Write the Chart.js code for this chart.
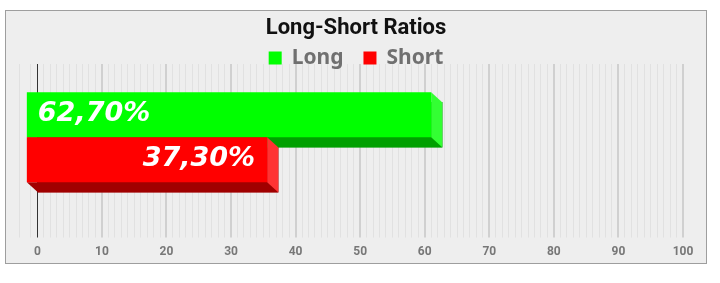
<!DOCTYPE html>
<html>
<head>
<meta charset="utf-8">
<script src="https://cdn.jsdelivr.net/npm/chart.js@4"></script>
<style>
    html, body { margin: 0; padding: 0; background: #ffffff; }
    #wrap { position: relative; width: 720px; height: 283px; }
    #card {
        position: absolute; left: 5px; top: 10px;
        width: 700px; height: 252px;
        border: 1px solid #9e9e9e; background: #eeeeee;
    }
    #chart { position: absolute; left: 0; top: 0; }
</style>
</head>
<body>
<div id="wrap">
    <div id="card"></div>
    <canvas id="chart" width="720" height="283"></canvas>
</div>
<script>
// Long / short ratio, 3D-looking horizontal bars

const CATEGORIES = ['Ratios'];
const SERIES_NAMES = ['Long', 'Short'];
const LONG_VALUES = [62.70];
const SHORT_VALUES = [37.30];
const X_TICKS = [0, 10, 20, 30, 40, 50, 60, 70, 80, 90, 100];

const FRONT_COLORS = ['#00ff00', '#ff0000'];
const SIDE_COLORS = ['#33ff33', '#ff3333'];
const BOTTOM_COLORS = ['#00a000', '#a00000'];
const LABEL_ALIGN = ['left', 'right'];

// depth of the fake 3D box (front face sits up-left of the back face)
const DEPTH_X = 11;
const DEPTH_Y = 10;

const fmtPct = v => v.toFixed(2).replace('.', ',') + '%';

const bars3d = {
    id: 'bars3d',
    afterDatasetsDraw(chart) {
        const ctx = chart.ctx;
        const faces = [];
        chart.data.datasets.forEach((ds, di) => {
            const meta = chart.getDatasetMeta(di);
            meta.data.forEach((el, i) => {
                const p = el.getProps(['x', 'y', 'base', 'height'], true);
                const bl = Math.min(p.base, p.x), br = Math.max(p.base, p.x);
                const bt = p.y - p.height / 2, bb = p.y + p.height / 2;
                const fl = bl - DEPTH_X, fr = br - DEPTH_X;
                const ft = bt - DEPTH_Y, fb = bb - DEPTH_Y;

                ctx.save();
                // bottom face
                ctx.fillStyle = BOTTOM_COLORS[di];
                ctx.beginPath();
                ctx.moveTo(fl, fb); ctx.lineTo(fr, fb);
                ctx.lineTo(br, bb); ctx.lineTo(bl, bb);
                ctx.closePath(); ctx.fill();
                // right face
                ctx.fillStyle = SIDE_COLORS[di];
                ctx.beginPath();
                ctx.moveTo(fr, ft); ctx.lineTo(br, bt);
                ctx.lineTo(br, bb); ctx.lineTo(fr, fb);
                ctx.closePath(); ctx.fill();
                // front face
                ctx.fillStyle = FRONT_COLORS[di];
                ctx.fillRect(fl, ft, fr - fl, fb - ft);
                ctx.restore();

                faces.push({ di, value: ds.data[i], fl, fr, cy: (ft + fb) / 2 });
            });
        });

        ctx.save();
        ctx.font = 'italic bold 27px "DejaVu Sans"';
        ctx.fillStyle = '#ffffff';
        ctx.textBaseline = 'middle';
        for (const f of faces) {
            const align = LABEL_ALIGN[f.di];
            ctx.textAlign = align;
            const x = align === 'left' ? f.fl + 11 : f.fr - 12;
            ctx.fillText(fmtPct(f.value), x, f.cy - 1);
        }
        ctx.restore();
    },
};

// legend row drawn by hand so it can sit right on top of the plot wall
const legendRow = {
    id: 'legendRow',
    afterDraw(chart) {
        const ctx = chart.ctx;
        const box = 13, gap = 10, between = 20;
        ctx.save();
        ctx.font = 'bold 21px "Noto Sans"';
        const items = chart.data.datasets.map((ds, i) => ({
            text: ds.label, color: FRONT_COLORS[i], w: ctx.measureText(ds.label).width,
        }));
        const total = items.reduce((s, it) => s + box + gap + it.w, 0) + between * (items.length - 1);
        const tb = chart.titleBlock;
        let x = (tb.left + tb.right) / 2 - total / 2;
        const boxTop = 51.5;
        const baseline = 63.5;
        ctx.textBaseline = 'alphabetic';
        ctx.textAlign = 'left';
        for (const it of items) {
            ctx.fillStyle = it.color;
            ctx.fillRect(x, boxTop, box, box);
            ctx.fillStyle = '#707070';
            ctx.fillText(it.text, x + box + gap, baseline);
            x += box + gap + it.w + between;
        }
        ctx.restore();
    },
};

const gridColor = c => {
    const v = c.tick.value;
    if (v === 0) return '#333333';
    if (X_TICKS.includes(v)) return '#d0d0d0';
    return '#e1e1e1';
};

new Chart(document.getElementById('chart'), {
    type: 'bar',
    data: {
        labels: CATEGORIES,
        datasets: [
            { label: SERIES_NAMES[0], data: LONG_VALUES, backgroundColor: BOTTOM_COLORS[0] },
            { label: SERIES_NAMES[1], data: SHORT_VALUES, backgroundColor: BOTTOM_COLORS[1] },
        ],
    },
    options: {
        indexAxis: 'y',
        responsive: false,
        animation: false,
        devicePixelRatio: 1,
        barThickness: 45,
        layout: { padding: { top: 10, left: 5, right: 13, bottom: 17.1 } },
        plugins: {
            tooltip: { enabled: false },
            legend: { display: false },
            title: {
                display: true,
                text: 'Long-Short Ratios',
                color: '#111111',
                font: { family: 'Roboto', size: 22, weight: 'bold', lineHeight: 1.2 },
                padding: { top: 5, bottom: 22.6 },
            },
        },
        scales: {
            x: {
                min: -2.84,
                max: 100,
                ticks: {
                    stepSize: 1,
                    autoSkip: false,
                    maxRotation: 0,
                    padding: 7,
                    color: '#777777',
                    font: { family: 'Roboto', size: 12, weight: 'bold' },
                    callback: v => X_TICKS.includes(v) ? String(v) : '',
                },
                grid: {
                    color: gridColor,
                    lineWidth: c => X_TICKS.includes(c.tick.value) && c.tick.value !== 0 ? 2 : 1,
                    tickLength: 7,
                },
                border: { display: false },
            },
            y: {
                grid: { display: false },
                border: { display: false },
                ticks: { display: false },
                afterFit: s => { s.width = 14; },
            },
            y2: {
                type: 'linear',
                position: 'right',
                grid: { display: false },
                border: { display: false },
                ticks: { display: false },
                afterFit: s => { s.width = 24; },
            },
        },
    },
    plugins: [bars3d, legendRow],
});
</script>
</body>
</html>
